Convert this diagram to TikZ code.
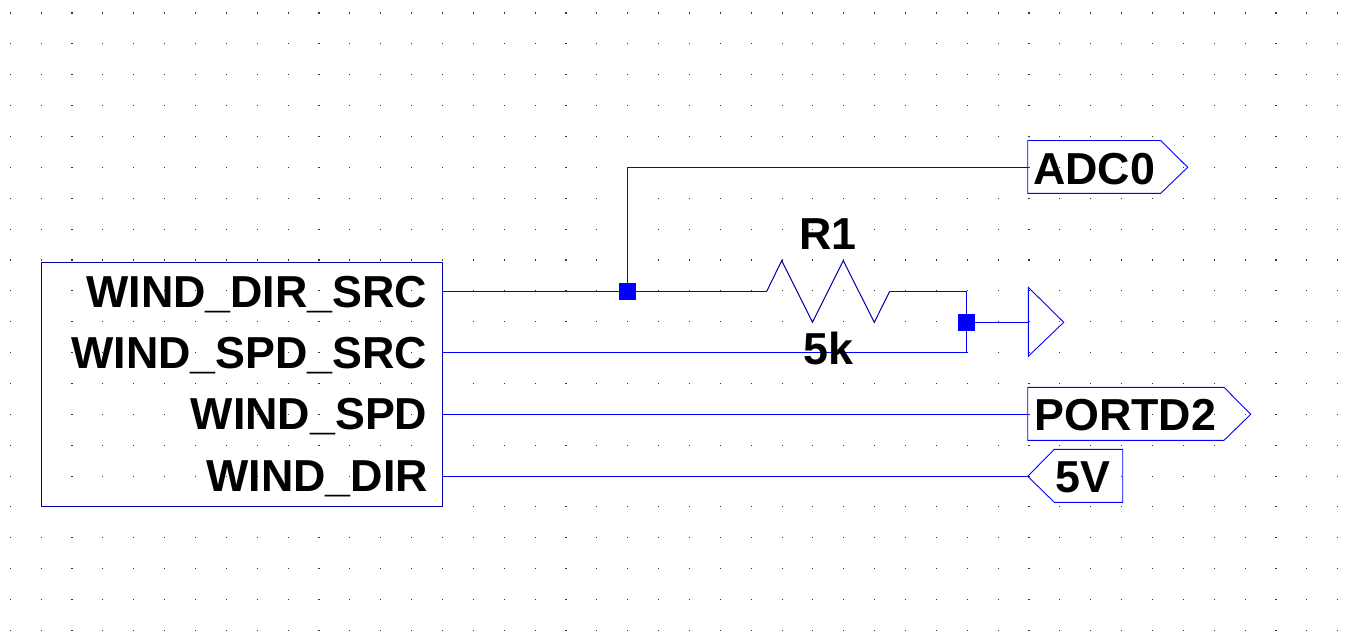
\documentclass[tikz,border=0pt]{standalone}
\usepackage{fontspec}
\setmainfont{Liberation Sans}
\definecolor{wireblue}{RGB}{0,0,255}
\definecolor{partblue}{RGB}{0,0,165}
\tikzset{
  griddot/.style={fill=black!80,draw=none},
  wire/.style={draw=wireblue,line width=1pt},
  flagline/.style={draw=wireblue,line width=0.9pt,line join=miter},
  partline/.style={draw=partblue,line width=1pt,line join=miter},
  junction/.style={fill=wireblue,draw=none,minimum size=17pt,inner sep=0pt,outer sep=0pt,rectangle},
  bigtext/.style={font=\fontsize{44.8pt}{44.8pt}\selectfont\bfseries,text=black,inner sep=0pt,outer sep=0pt},
  blockbox/.style={partline,fill=none,rectangle,inner sep=0pt,outer sep=0pt,anchor=north west,minimum width=401.4pt,minimum height=244pt}
}
\begin{document}
\begin{tikzpicture}[x=1pt,y=-1pt]
\useasboundingbox (0,0) rectangle (1362,643);
\fill[white] (0,0) rectangle (1362,643);
% grid
\foreach \i in {0,...,43}{
  \foreach \j in {0,...,20}{
    \fill[griddot] ({10.3+\i*30.87-0.55},{13+\j*30.87-0.55}) rectangle ++(1.1,1.1);
  }
}
% block
\node[blockbox] (block) at (41.3,262.3) {};
\coordinate (pinA) at (442.7,291.3);
\coordinate (pinB) at (442.7,352.3);
\coordinate (pinC) at (442.7,414.3);
\coordinate (pinD) at (442.7,476.3);
% junctions
\coordinate (j1) at (627.3,291.3);
\coordinate (j2) at (966.3,322.3);
\coordinate (corner1) at (627.3,167.3);
\coordinate (cornerA) at (966.3,291.3);
\coordinate (cornerB) at (966.3,352.3);
% resistor ends
\coordinate (r1a) at (766.7,291.3);
\coordinate (r1b) at (889.7,291.3);
% flag pins
\coordinate (adcpin) at (1027.7,167.3);
\coordinate (gndpin) at (1028.3,322.3);
\coordinate (portpin) at (1027.7,414.3);
\coordinate (vpin) at (1027.7,476.3);
% wires
\draw[wire] (pinA) -- (j1) -- (r1a);
\draw[wire] (j1) -- (corner1) -- (adcpin);
\draw[wire] (r1b) -- (cornerA) -- (cornerB) -- (pinB);
\draw[wire] (j2) -- (gndpin);
\draw[wire] (pinC) -- (portpin);
\draw[wire] (pinD) -- (vpin);
% resistor
\draw[partline] (r1a) -- (781.7,260.7) -- (812.5,322.3) -- (843.3,260.7) -- (874.3,322.3) -- (r1b);
% flags
\draw[flagline] (adcpin) -- (1027.7,140.5) -- (1160.7,140.5) -- (1187.7,167.3) -- (1160.7,193.3) -- (1027.7,193.3) -- cycle;
\draw[flagline] (gndpin) -- (1028.3,287.3) -- (1063.7,322.3) -- (1028.3,356.3) -- cycle;
\draw[flagline] (portpin) -- (1027.7,387.3) -- (1224,387.3) -- (1250.7,414.3) -- (1224,440.3) -- (1027.7,440.3) -- cycle;
\draw[flagline] (vpin) -- (1054.3,449.3) -- (1122.7,449.3) -- (1122.7,502.3) -- (1054.3,502.3) -- cycle;
% junction dots
\node[junction] (dot1) at (j1) {};
\node[junction] (dot2) at (j2) {};
% labels
\node[bigtext,anchor=base east] (lA) at (427.3,307) {WIND\_DIR\_SRC};
\node[bigtext,anchor=base east] (lB) at (427.3,368) {WIND\_SPD\_SRC};
\node[bigtext,anchor=base east] (lC) at (427.3,429.8) {WIND\_SPD};
\node[bigtext,anchor=base east] (lD) at (428,491.5) {WIND\_DIR};
\node[bigtext,anchor=base west] (r1name) at (799.5,249.5) {R1};
\node[bigtext,anchor=base west] (r1val) at (803.5,364.5) {5k};
\node[bigtext,anchor=base west] (adc) at (1033,184) {ADC0};
\node[bigtext,anchor=base west] (port) at (1034.5,430.3) {PORTD2};
\node[bigtext,anchor=base west] (five) at (1055.5,492.7) {5V};
\end{tikzpicture}
\end{document}
